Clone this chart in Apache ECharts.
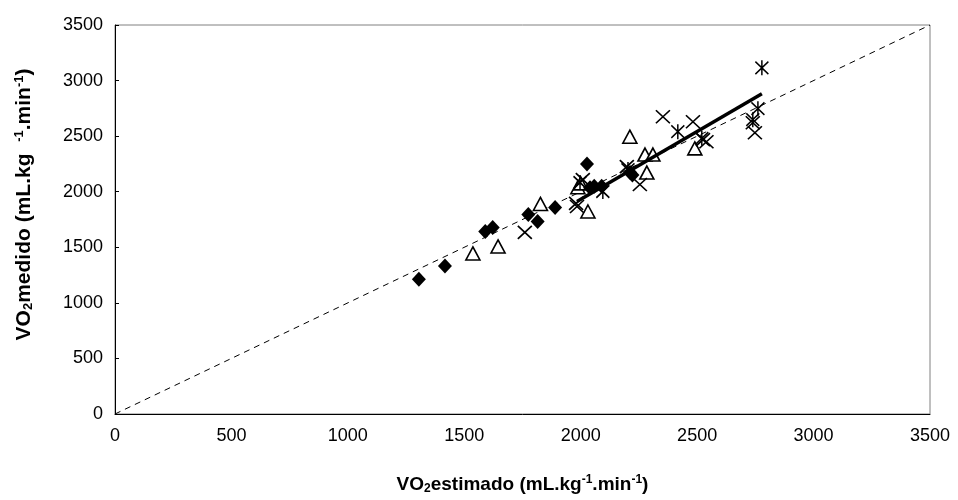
<!DOCTYPE html>
<html><head><meta charset="utf-8">
<script src="https://cdn.jsdelivr.net/npm/echarts@6/dist/echarts.min.js"></script>
<style>html,body{margin:0;padding:0;background:#fff}#c{width:958px;height:500px}</style>
</head><body><div id="c"></div>
<script>
var axisTicks = [0,500,1000,1500,2000,2500,3000,3500];
var diamondX = [1305,1417,1590,1622,1775,1815,1890,2027,2040,2058,2090,2212,2222];
var diamondY = [1212,1332,1643,1679,1795,1733,1858,2250,2035,2050,2050,2172,2150];
var triangleX = [1537,1645,1827,1988,2000,2031,2211,2276,2310,2284,2490];
var triangleY = [1445,1508,1890,2040,2075,1822,2495,2334,2334,2172,2390];
var crossX = [1760,1980,1984,2009,2254,2198,2353,2482,2525,2540,2739,2748];
var crossY = [1634,1895,1867,2109,2065,2226,2675,2630,2469,2450,2620,2531];
var starX = [1997,2095,2203,2417,2520,2739,2761,2778];
var starY = [2083,2002,2199,2540,2480,2648,2747,3115];
var regX = [1984,2778];
var regY = [1912,2881];
var idX = [0,3500];
var idY = [0,3500];

function pairs(xs, ys){ return xs.map(function(v,i){return [v, ys[i]];}); }

var font = 'Liberation Sans, Arial, sans-serif';
function rich(fs, ss){
  return {
    b:{fontFamily:font,fontSize:fs,fontWeight:'bold',color:'#000'},
    s:{fontFamily:font,fontSize:ss,fontWeight:'bold',color:'#000',verticalAlign:'bottom',padding:[9,0,0,0]},
    p:{fontFamily:font,fontSize:ss,fontWeight:'bold',color:'#000',verticalAlign:'top',padding:[0,0,9,0]}
  };
}
var chart = echarts.init(document.getElementById('c'));
chart.setOption({
  animation:false,
  grid:{left:115,right:28,top:25,bottom:85,show:true,borderColor:'#808080',borderWidth:1},
  xAxis:{type:'value',min:axisTicks[0],max:axisTicks[axisTicks.length-1],interval:500,
    axisLine:{show:true,onZero:false,lineStyle:{color:'#000',width:1}},
    axisTick:{show:false},
    splitLine:{show:false},
    axisLabel:{color:'#000',fontFamily:font,fontSize:18,margin:13,formatter:function(v){return String(v);}},
    name:'{b|VO}{s|2}{b|estimado (mL.kg}{p|-1}{b|.min}{p|-1}{b|)}',
    nameLocation:'middle',nameGap:60,
    nameTextStyle:{rich:rich(19,12)}
  },
  yAxis:{type:'value',min:axisTicks[0],max:axisTicks[axisTicks.length-1],interval:500,
    axisLine:{show:true,onZero:false,lineStyle:{color:'#000',width:1}},
    axisTick:{show:true,inside:true,length:4,lineStyle:{color:'#000'}},
    splitLine:{show:false},
    axisLabel:{color:'#000',fontFamily:font,fontSize:18,margin:12,formatter:function(v){return String(v);}},
    name:'{b|VO}{s|2}{b|medido (mL.kg  }{p|-1}{b|.min}{p|-1}{b|)}',
    nameLocation:'middle',nameGap:80,
    nameTextStyle:{padding:[0,0,0,30],rich:rich(21,13)}
  },
  series:[
    {type:'line',data:pairs(idX,idY),symbol:'none',z:1,
      lineStyle:{color:'#000',width:1,type:[6,5]}},
    {type:'line',data:pairs(regX,regY),symbol:'none',z:5,
      lineStyle:{color:'#000',width:3.5}},
    {type:'scatter',data:pairs(triangleX,triangleY),symbol:'triangle',symbolSize:[14,13],z:3,
      itemStyle:{color:'#fff',borderColor:'#000',borderWidth:1.6,opacity:1}},
    {type:'scatter',data:pairs(diamondX,diamondY),symbol:'diamond',symbolSize:[14,15],z:4,
      itemStyle:{color:'#000',opacity:1}},
    {type:'scatter',data:pairs(crossX,crossY),symbol:'path://M0,0L10,10M10,0L0,10',symbolSize:[14,13],z:4,
      itemStyle:{color:'none',borderColor:'#000',borderWidth:1.6,opacity:1}},
    {type:'scatter',data:pairs(starX,starY),symbol:'path://M0,0L10,10M10,0L0,10M5,-1L5,11',symbolSize:[13,15],z:4,
      itemStyle:{color:'none',borderColor:'#000',borderWidth:1.6,opacity:1}}
  ]
});
</script></body></html>
